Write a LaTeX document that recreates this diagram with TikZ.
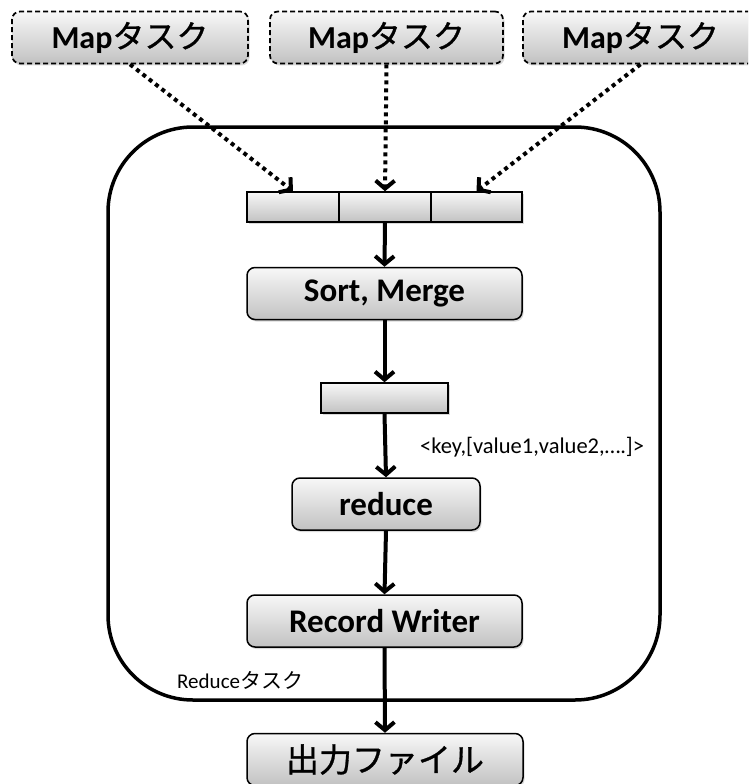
\documentclass[tikz,border=0pt]{standalone}
\usepackage{fontspec}
\setmainfont{Carlito}
\newfontfamily\jp{Noto Sans CJK JP}
\newfontfamily\jpfb[FakeBold=0.9]{Noto Sans CJK JP}
\usetikzlibrary{arrows.meta,shadows}
\newcommand{\jpm}[1]{{\jpfb\mdseries #1}}
\newcommand{\jpr}[1]{{\jp\mdseries #1}}
\begin{document}
\begin{tikzpicture}[x=1pt,y=-1pt,
  boxfill/.style={top color=black!3, bottom color=black!24, draw=black, line width=1.5pt},
  shad/.style={drop shadow={opacity=0.3, shadow xshift=1.5pt, shadow yshift=-2pt}},
  procbox/.style={boxfill, shad, rounded corners=8pt, minimum height=52pt, inner sep=0pt,
    font=\bfseries\fontsize{33}{33}\selectfont},
  mapbox/.style={procbox, dash pattern=on 5pt off 3pt, line width=1.7pt,
    font=\bfseries\fontsize{32}{32}\selectfont},
  bufbox/.style={boxfill, shad, minimum height=30pt, inner sep=0pt},
  tip/.style={-{Straight Barb[length=8pt,width=19pt]}},
  arr/.style={line width=4pt, tip},
  dotarr/.style={line width=4pt, dash pattern=on 4pt off 4pt, tip},
  lbl/.style={inner sep=0pt, anchor=west}
]
\clip (0,0) rectangle (748,784);
\node[draw, line width=3.5pt, rounded corners=85pt, minimum width=552pt, minimum height=573pt] (task) at (384,413.5) {};

\node[mapbox, minimum width=236pt] (m1) at (130,37.5) {Map\jpm{タスク}};
\node[mapbox, minimum width=233pt] (m2) at (386.5,37.5) {Map\jpm{タスク}};
\node[mapbox, minimum width=235pt] (m3) at (640.5,37.5) {Map\jpm{タスク}};

\node[bufbox, minimum width=92pt] (b1) at (293,207) {};
\node[bufbox, minimum width=92pt] (b2) at (385,207) {};
\node[bufbox, minimum width=91pt] (b3) at (476.5,207) {};

\node[procbox, minimum width=275pt] (sort) at (384.5,293.5) {Sort, Merge};
\node[bufbox, minimum width=127pt] (grp) at (384.5,398) {};
\node[procbox, minimum width=188pt] (red) at (386,504) {reduce};
\node[procbox, minimum width=275pt] (rw) at (384.5,621) {Record Writer};
\node[procbox, minimum width=276pt] (out) at (385,759.5) {\jpm{出力ファイル}};

\node[lbl, font=\fontsize{22.5}{22.5}\selectfont] (kv) at (420,447) {<key,[value1,value2,….]>};
\node[lbl, font=\fontsize{21}{21}\selectfont] (rt) at (177,680) {Reduce\jpr{タスク}};

\draw[dotarr] (m1.south) -- (b1.north);
\draw[dotarr] (m2.south) -- (b2.north);
\draw[dotarr] (m3.south) -- (b3.north);

\draw[arr] (b2.south) -- (sort.north);
\draw[arr] (sort.south) -- (grp.north);
\draw[arr] (grp.south) -- (red.north);
\draw[arr] (red.south) -- (rw.north);
\draw[arr] (rw.south) -- (out.north);
\end{tikzpicture}
\end{document}
